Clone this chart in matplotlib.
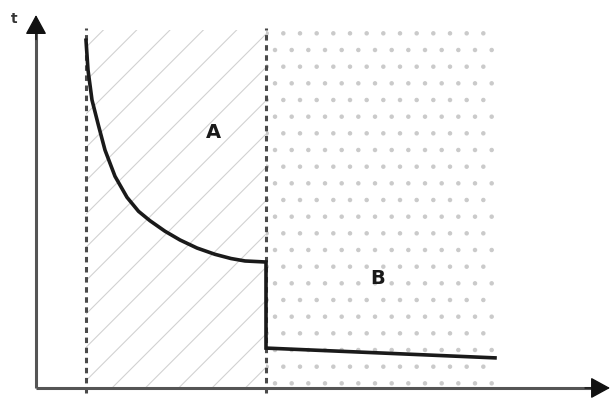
"""Схема: время t по зонам A и B"""

import matplotlib.pyplot as plt

# границы зон (пунктирные вертикали)
zone_edges = [1.0, 4.6]
zone_right = 9.18
zone_top = 10.23
zone_names = ['A', 'B']

# кривая в зоне A
curve_x = [1.0, 1.04, 1.12, 1.25, 1.38, 1.58, 1.82, 2.05, 2.28, 2.58, 2.88, 3.22, 3.58, 3.9, 4.18, 4.6]
curve_t = [9.94, 9.09, 8.23, 7.5, 6.8, 6.05, 5.45, 5.05, 4.78, 4.48, 4.23, 4.0, 3.82, 3.7, 3.63, 3.6]

# ступенька и линия в зоне B
step_x = [4.6, 4.6, 9.18]
step_t = [3.6, 1.14, 0.86]

plt.rcParams['hatch.linewidth'] = 0.8

fig = plt.figure(figsize=(6.13, 4.03), dpi=100)
ax = fig.add_axes([0, 0, 1, 1])
ax.set_xlim(-0.72, 11.54)
ax.set_ylim(-0.43, 11.09)
ax.axis('off')

# текстуры зон
ax.fill_between([zone_edges[0], zone_edges[1]], 0, zone_top, facecolor='none',
                edgecolor='#d2d2d2', linewidth=0, hatch='/')
ax.fill_between([zone_edges[1], zone_right], 0, zone_top, facecolor='none',
                edgecolor='#cacaca', linewidth=0, hatch='.')

# пунктирные границы
for xe in zone_edges:
    ax.plot([xe, xe], [-0.15, zone_top + 0.05], color='#4a4a4a', lw=2.2,
            linestyle=(0, (1.8, 1.5)))

# оси со стрелками
x_tip, t_tip = 11.48, 10.66
ax.plot([0, x_tip - 0.2], [0, 0], color='#555555', lw=2.2, solid_capstyle='butt')
ax.plot([0, 0], [0, t_tip - 0.3], color='#555555', lw=2.2, solid_capstyle='butt')
head = dict(arrowstyle='-|>,head_length=0.55,head_width=0.3', color='#111111',
            lw=1, mutation_scale=22, shrinkA=0, shrinkB=0)
ax.annotate('', xy=(x_tip, 0), xytext=(x_tip - 0.5, 0), arrowprops=head)
ax.annotate('', xy=(0, t_tip), xytext=(0, t_tip - 0.7), arrowprops=head)
ax.text(-0.44, 10.55, 't', fontsize=10, fontweight='bold', color='#333333',
        ha='center', va='center')

# кривая
ax.plot(curve_x + step_x, curve_t + step_t, color='#1a1a1a', lw=2.6,
        solid_joinstyle='miter')

# подписи зон
ax.text(3.54, 7.29, zone_names[0], fontsize=14, fontweight='bold', color='#1a1a1a',
        ha='center', va='center')
ax.text(6.84, 3.14, zone_names[1], fontsize=14, fontweight='bold', color='#1a1a1a',
        ha='center', va='center')

plt.savefig('out.png', dpi=100)
